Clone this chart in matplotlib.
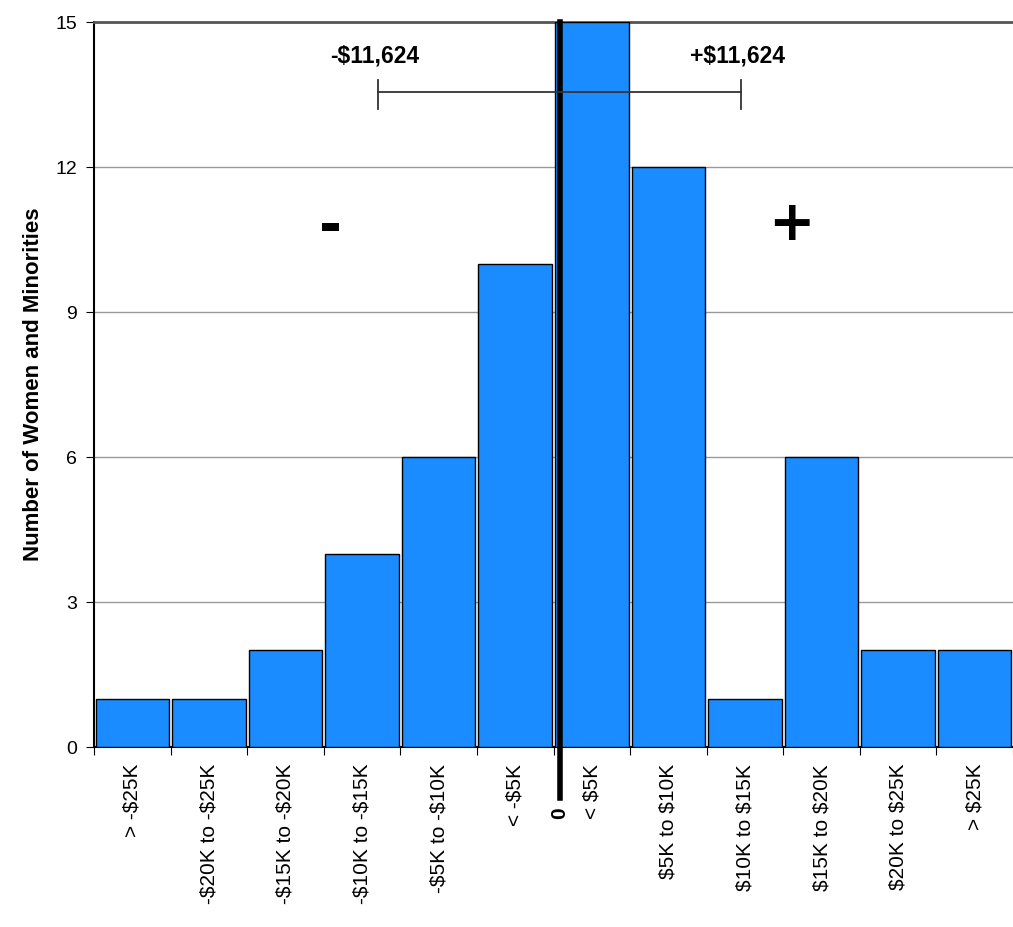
import numpy as np
import matplotlib
matplotlib.use("Agg")
import matplotlib.pyplot as plt

plt.rcParams['font.family'] = ['Liberation Sans', 'DejaVu Sans']

# Data
categories = ["> -$25K", "-$20K to -$25K", "-$15K to -$20K", "-$10K to -$15K",
              "-$5K to -$10K", "< -$5K", "< $5K", "$5K to $10K",
              "$10K to $15K", "$15K to $20K", "$20K to $25K", "> $25K"]
counts = [1, 1, 2, 4, 6, 10, 15, 12, 1, 6, 2, 2]
y_ticks = [0, 3, 6, 9, 12, 15]
bin_width = 5000      # dollars per category
spread = 11624        # +/- dollars shown by the bracket

fig = plt.figure(figsize=(10.13, 9.27), dpi=100)
ax = fig.add_axes([0.0928, 0.194, 0.9072, 0.7822])

x = np.arange(len(categories))
ax.bar(x, counts, width=0.96, color='#1a8cff', edgecolor='black', linewidth=1, zorder=3)

ax.set_xlim(-0.5, len(categories) - 0.5)
ax.set_ylim(0, 15)
ax.set_yticks(y_ticks)
ax.set_yticklabels([str(t) for t in y_ticks], fontsize=14)
ax.yaxis.grid(True, color='#999999', linewidth=1, zorder=0)

# category labels between boundary ticks
ax.set_xticks(np.arange(len(categories) + 1) - 0.5)
ax.set_xticklabels([])
ax.set_xticks(x, minor=True)
ax.set_xticklabels([c.replace("$", r"\$") for c in categories], minor=True, rotation=90,
                   fontsize=15, va='top')
ax.tick_params(axis='x', which='minor', length=0, pad=12)
ax.tick_params(axis='x', which='major', length=6, color='black')
ax.tick_params(axis='y', length=6, pad=6)

ax.spines['right'].set_visible(False)
ax.spines['top'].set_color('#555555')
ax.spines['top'].set_linewidth(2)
ax.spines['left'].set_linewidth(1.5)
ax.spines['bottom'].set_linewidth(1.5)

ax.set_ylabel("Number of Women and Minorities", fontsize=16, fontweight='bold', labelpad=8)

# zero line between the two middle bins
zero = 5.58
ax.plot([zero, zero], [-1.05, 15], color='black', linewidth=4, clip_on=False, zorder=5)
ax.text(zero, -1.25, "0", rotation=90, ha='center', va='top', fontsize=15, fontweight='bold')

# +/- bracket
half = spread / bin_width
left, right = zero - half * 1.02, zero + half * 1.02
yb = 13.55
ax.plot([left, right], [yb, yb], color='#333333', linewidth=1.3, zorder=6)
for xe in (left, right):
    ax.plot([xe, xe], [yb - 0.35, yb + 0.25], color='#333333', linewidth=1.3, zorder=6)
ax.text(left - 0.05, 14.05, r"-\$11,624", ha='center', va='bottom', fontsize=16.5, fontweight='bold')
ax.text(right - 0.05, 14.05, r"+\$11,624", ha='center', va='bottom', fontsize=16.5, fontweight='bold')

ax.text(2.59, 10.75, "-", ha='center', va='center', fontsize=40, fontweight='bold',
        family=['DejaVu Sans'])
ax.text(8.61, 10.8, "+", ha='center', va='center', fontsize=40, fontweight='bold',
        family=['DejaVu Sans'])

fig.savefig("out.png", dpi=100)
